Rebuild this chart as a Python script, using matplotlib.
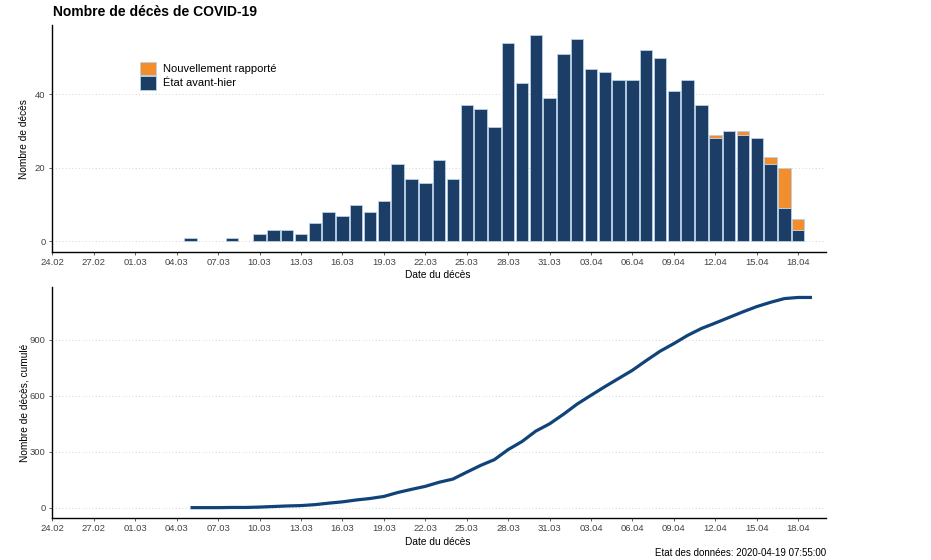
import matplotlib
matplotlib.use('Agg')
import matplotlib.pyplot as plt
import matplotlib.dates as mdates
import numpy as np
import pandas as pd

plt.rcParams['font.family'] = ['Liberation Sans', 'DejaVu Sans']

# daily deaths, 05.03 .. 18.04
day_start = '2020-03-05'
day_end = '2020-04-18'
before = [1, 0, 0, 1, 0, 2, 3, 3, 2, 5, 8, 7, 10, 8, 11, 21, 17, 16, 22, 17, 37, 36, 31, 54, 43, 56, 39,
          51, 55, 47, 46, 44, 44, 52, 50, 41, 44, 37, 28, 30, 29, 28, 21, 9, 3]
new = [0, 0, 0, 0, 0, 0, 0, 0, 0, 0, 0, 0, 0, 0, 0, 0, 0, 0, 0, 0, 0, 0, 0, 0, 0, 0, 0,
       0, 0, 0, 0, 0, 0, 0, 0, 0, 0, 0, 1, 0, 1, 0, 2, 11, 3]

# cumulative deaths, 05.03 .. 19.04
cum_start = '2020-03-05'
cum_end = '2020-04-19'
cumulative = [1, 1, 1, 2, 2, 4, 7, 10, 12, 17, 25, 32, 42, 50, 61, 82, 99, 115, 137, 154, 191, 227, 258, 312, 355,
              411, 450, 501, 556, 603, 649, 693, 737, 789, 839, 880, 924, 961, 990, 1020, 1050, 1078, 1101, 1121,
              1127, 1127]

labels = ['Nouvellement rapporté', 'État avant-hier']
title = 'Nombre de décès de COVID-19'
footer = 'Etat des données: 2020-04-19 07:55:00'

blue = '#1b3d66'
orange = '#f28e2b'
edge = '#b9d0e6'
tick_col = '#444444'

days = pd.date_range(day_start, day_end)
cum_days = pd.date_range(cum_start, cum_end)
tick_dates = pd.date_range('2020-02-24', '2020-04-18', freq='3D')
xmin = pd.Timestamp('2020-02-24')
xmax = pd.Timestamp('2020-04-20')

fig = plt.figure(figsize=(9.31, 5.6), dpi=100)
ax1 = fig.add_axes([0.0563, 0.55, 0.8307, 0.405])
ax2 = fig.add_axes([0.0563, 0.0745, 0.8307, 0.413])

before = np.array(before)
new = np.array(new)
# skip empty days so no flat outlines get drawn
m1 = before > 0
m2 = new > 0
b1 = ax1.bar(days[m1], before[m1], width=0.9, color=blue, edgecolor=edge, linewidth=0.6, zorder=2)
b2 = ax1.bar(days[m2], new[m2], width=0.9, bottom=before[m2], color=orange, edgecolor=edge,
             linewidth=0.6, zorder=2)
ax1.set_ylim(-2.9, 58.8)
ax1.set_yticks([0, 20, 40])
ax1.set_ylabel('Nombre de décès', fontsize=7.3)
ax1.set_xlabel('Date du décès', fontsize=7.3)
leg = ax1.legend([b2, b1], labels, loc='upper left', bbox_to_anchor=(0.113, 0.838), frameon=False,
                 fontsize=8, handlelength=1.5, handleheight=1.5, handletextpad=0.55, labelspacing=0.05,
                 borderpad=0, borderaxespad=0)

ax2.plot(cum_days, cumulative, color='#0f437a', linewidth=2.3, solid_capstyle='butt', zorder=2)
ax2.set_ylim(-56, 1183)
ax2.set_yticks([0, 300, 600, 900])
ax2.set_ylabel('Nombre de décès, cumulé', fontsize=7.3)
ax2.set_xlabel('Date du décès', fontsize=7.3)

for ax in (ax1, ax2):
    ax.set_xlim(xmin, xmax)
    ax.set_xticks(tick_dates)
    ax.xaxis.set_major_formatter(mdates.DateFormatter('%d.%m'))
    ax.spines['top'].set_visible(False)
    ax.spines['right'].set_visible(False)
    ax.spines['left'].set_linewidth(1.0)
    ax.spines['bottom'].set_linewidth(1.0)
    ax.tick_params(axis='both', labelsize=6.8, colors=tick_col, length=2.5, width=0.6, pad=1.5)
    ax.tick_params(axis='y', pad=2.5)
    ax.yaxis.grid(True, linestyle=(0, (1, 3)), color='#c8c8c8', linewidth=0.6)
    ax.set_axisbelow(True)
    ax.yaxis.set_label_coords(-0.030, 0.5)

ax1.xaxis.set_label_coords(0.498, -0.08)
ax2.xaxis.set_label_coords(0.498, -0.082)

fig.text(0.057, 0.979, title, fontsize=10, fontweight='bold', va='center', ha='left')
fig.text(0.887, 0.0125, footer, fontsize=7, va='center', ha='right')

fig.savefig('out.png', dpi=100)
